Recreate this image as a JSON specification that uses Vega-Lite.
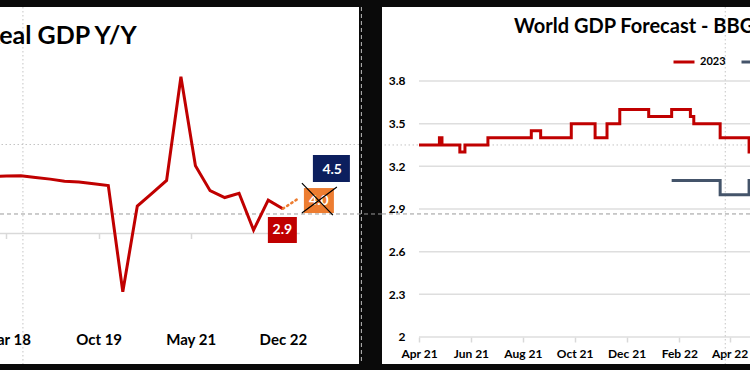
{
  "$schema": "https://vega.github.io/schema/vega-lite/v6.json",
  "background": "#0a0a0a",
  "autosize": {"type": "none"},
  "padding": {"left": 0, "top": 7, "right": 750, "bottom": 363},
  "spacing": 23,
  "bounds": "flush",
  "config": {
    "view": {"stroke": null, "fill": "white"},
    "font": "Lato"
  },
  "hconcat": [
    {
      "width": 359,
      "height": 357,
      "title": {"text": "Real GDP Y/Y", "anchor": "start", "frame": "group", "dx": -16, "dy": 62, "offset": 0, "baseline": "alphabetic", "fontSize": 25, "font": "Lato", "fontWeight": "bold", "color": "#000"},
      "layer": [
        {
          "data": {"values": [{}]},
          "mark": {"type": "rule", "color": "#d9d9d9", "strokeWidth": 1.5},
          "encoding": {
            "x": {"datum": {"year": 2018, "month": 2, "date": 19, "utc": true}, "type": "temporal"},
            "x2": {"datum": {"year": 2023, "month": 4, "date": 16, "utc": true}},
            "y": {"datum": 0, "type": "quantitative", "axis": null}
          }
        },
        {
          "data": {"values": [{}]},
          "mark": {"type": "rule", "color": "#c4c4c4", "strokeWidth": 1, "strokeDash": [1.5, 2.5]},
          "encoding": {"y": {"datum": 10.39, "type": "quantitative", "axis": null}}
        },
        {
          "data": {"values": [{}]},
          "mark": {"type": "rule", "color": "#c4c4c4", "strokeWidth": 1, "strokeDash": [1.5, 2.5]},
          "encoding": {"x": {"datum": {"year": 2018, "month": 7, "date": 13, "utc": true}, "type": "temporal"}}
        },
        {
          "data": {"values": [{}]},
          "mark": {"type": "rule", "color": "#9a9a9a", "strokeWidth": 1, "strokeDash": [4, 3], "clip": false},
          "encoding": {
            "x": {"datum": {"year": 2018, "month": 2, "date": 19, "utc": true}, "type": "temporal"},
            "x2": {"datum": {"year": 2024, "month": 9, "date": 13, "utc": true}},
            "y": {"datum": 2.28, "type": "quantitative", "axis": null}
          }
        },
        {
          "data": {"values": [{}]},
          "mark": {"type": "rule", "color": "#bdbdbd", "strokeWidth": 1, "strokeDash": [4, 3], "clip": false},
          "encoding": {
            "x": {"datum": {"year": 2024, "month": 5, "date": 7, "utc": true}, "type": "temporal"}
          }
        },
        {
          "data": {"values": [
            {"date": "2017-09-30", "gdp": 6.7},
            {"date": "2017-12-31", "gdp": 6.65},
            {"date": "2018-03-31", "gdp": 6.7},
            {"date": "2018-06-30", "gdp": 6.75},
            {"date": "2018-09-30", "gdp": 6.55},
            {"date": "2018-12-31", "gdp": 6.35},
            {"date": "2019-03-31", "gdp": 6.1},
            {"date": "2019-06-30", "gdp": 6.0},
            {"date": "2019-09-30", "gdp": 5.8},
            {"date": "2019-12-31", "gdp": 5.6},
            {"date": "2020-03-31", "gdp": -6.8},
            {"date": "2020-06-30", "gdp": 3.2},
            {"date": "2020-09-30", "gdp": 4.7},
            {"date": "2020-12-31", "gdp": 6.2},
            {"date": "2021-03-31", "gdp": 18.3},
            {"date": "2021-06-30", "gdp": 7.9},
            {"date": "2021-09-30", "gdp": 5.0},
            {"date": "2021-12-31", "gdp": 4.2},
            {"date": "2022-03-31", "gdp": 4.7},
            {"date": "2022-06-30", "gdp": 0.4},
            {"date": "2022-09-30", "gdp": 3.9},
            {"date": "2022-12-31", "gdp": 2.9}
          ]},
          "mark": {"type": "line", "color": "#c00000", "strokeWidth": 3, "clip": true},
          "encoding": {
            "x": {
              "field": "date", "type": "temporal",
              "scale": {"type": "utc", "nice": false, "domain": [{"year": 2018, "month": 2, "date": 19, "utc": true}, {"year": 2024, "month": 4, "date": 22, "utc": true}]},
              "axis": {
                "orient": "bottom", "offset": -130.5, "title": null, "domain": false, "grid": false,
                "values": [{"year": 2018, "month": 3, "date": 31, "utc": true}, {"year": 2019, "month": 10, "date": 31, "utc": true}, {"year": 2021, "month": 5, "date": 31, "utc": true}, {"year": 2022, "month": 12, "date": 31, "utc": true}],
                "format": "%b %y", "ticks": true, "tickSize": 5, "tickColor": "#d9d9d9", "tickWidth": 1.5,
                "labelPadding": 105.5, "labelBaseline": "alphabetic", "labelFont": "Lato", "labelFontWeight": "bold", "labelFontSize": 15, "labelColor": "#000",
                "labelFlush": false, "labelOverlap": false
              }
            },
            "y": {"field": "gdp", "type": "quantitative", "scale": {"domain": [-15.23, 26.44], "nice": false, "zero": false}, "axis": null}
          }
        },
        {
          "data": {"values": [{"date": "2022-12-31", "v": 2.9}, {"date": "2023-03-31", "v": 4.0}]},
          "mark": {"type": "line", "color": "#ed7d31", "strokeWidth": 2.5, "strokeDash": [1.5, 3.5], "strokeCap": "round"},
          "encoding": {
            "x": {"field": "date", "type": "temporal"},
            "y": {"field": "v", "type": "quantitative", "axis": null}
          }
        },
        {
          "data": {"values": [{"date": "2022-12-31", "value": 2.9, "label": "2.9"}]},
          "encoding": {
            "x": {"field": "date", "type": "temporal"},
            "y": {"field": "value", "type": "quantitative", "axis": null}
          },
          "layer": [
            {"mark": {"type": "point", "shape": "M-1.5,0.83L1.4,0.83L1.4,3.43L-1.5,3.43Z", "size": 400, "filled": true, "fill": "#c00000", "strokeWidth": 0, "opacity": 1}},
            {"mark": {"type": "text", "dx": -0.5, "dy": 21.3, "color": "white", "font": "Lato", "fontWeight": "bold", "fontSize": 14, "align": "center", "baseline": "middle"}, "encoding": {"text": {"field": "label"}}}
          ]
        },
        {
          "data": {"values": [{"date": "2023-03-31", "value": 4.0, "label": "4.0"}]},
          "encoding": {
            "x": {"field": "date", "type": "temporal"},
            "y": {"field": "value", "type": "quantitative", "axis": null}
          },
          "layer": [
            {"mark": {"type": "point", "shape": "M0.67,-1.12L3.67,-1.12L3.67,1.38L0.67,1.38Z", "size": 400, "filled": true, "fill": "#ed7d31", "strokeWidth": 0, "opacity": 1}},
            {"mark": {"type": "text", "dx": 21.7, "dy": 1.3, "color": "white", "font": "Lato", "fontWeight": "bold", "fontSize": 14, "align": "center", "baseline": "middle"}, "encoding": {"text": {"field": "label"}}},
            {"mark": {"type": "point", "shape": "M0.47,-1.62L3.57,1.58M0.47,1.38L3.97,-1.22", "size": 400, "filled": false, "stroke": "#000", "strokeWidth": 1.2, "opacity": 1}}
          ]
        },
        {
          "data": {"values": [{"date": "2023-03-31", "value": 4.5, "label": "4.5"}]},
          "encoding": {
            "x": {"field": "date", "type": "temporal"},
            "y": {"field": "value", "type": "quantitative", "axis": null}
          },
          "layer": [
            {"mark": {"type": "point", "shape": "M1.57,-4L5.27,-4L5.27,-1.3L1.57,-1.3Z", "size": 400, "filled": true, "fill": "#0c1f5e", "strokeWidth": 0, "opacity": 1}},
            {"mark": {"type": "text", "dx": 35, "dy": -25, "color": "white", "font": "Lato", "fontWeight": "bold", "fontSize": 14, "align": "center", "baseline": "middle"}, "encoding": {"text": {"field": "label"}}}
          ]
        }
      ]
    },
    {
      "width": 368,
      "height": 357,
      "title": {"text": "World GDP Forecast - BBG Consensus", "anchor": "start", "frame": "group", "dx": 132, "dy": 46, "offset": 0, "baseline": "alphabetic", "fontSize": 20, "font": "Lato", "fontWeight": "bold", "color": "#000"},
      "layer": [
        {
          "data": {"values": [{"g": 2}, {"g": 2.3}, {"g": 2.6}, {"g": 2.9}, {"g": 3.2}, {"g": 3.5}, {"g": 3.8}]},
          "mark": {"type": "rule", "color": "#dedede", "strokeWidth": 1.5, "clip": true},
          "encoding": {
            "x": {"datum": {"year": 2021, "month": 4, "date": 1, "utc": true}, "type": "temporal"},
            "x2": {"datum": {"year": 2022, "month": 6, "date": 30, "utc": true}},
            "y": {"field": "g", "type": "quantitative"}
          }
        },
        {
          "data": {"values": [{}]},
          "mark": {"type": "rule", "color": "#c4c4c4", "strokeWidth": 1, "strokeDash": [1.5, 2.5]},
          "encoding": {"y": {"datum": 3.35, "type": "quantitative"}}
        },
        {
          "data": {"values": [{}]},
          "mark": {"type": "rule", "color": "#9a9a9a", "strokeWidth": 1, "strokeDash": [4, 3]},
          "encoding": {"y": {"datum": 2.865, "type": "quantitative"}}
        },
        {
          "data": {"values": [{}]},
          "mark": {"type": "rule", "color": "#c4c4c4", "strokeWidth": 1, "strokeDash": [1.5, 2.5]},
          "encoding": {"x": {"datum": {"year": 2022, "month": 3, "date": 27, "utc": true}, "type": "temporal"}}
        },
        {
          "data": {"values": [
            {"date": "2021-04-01", "series": "2023", "value": 3.35},
            {"date": "2021-04-25", "series": "2023", "value": 3.4},
            {"date": "2021-04-28", "series": "2023", "value": 3.35},
            {"date": "2021-05-19", "series": "2023", "value": 3.3},
            {"date": "2021-05-25", "series": "2023", "value": 3.35},
            {"date": "2021-06-21", "series": "2023", "value": 3.4},
            {"date": "2021-08-11", "series": "2023", "value": 3.45},
            {"date": "2021-08-22", "series": "2023", "value": 3.4},
            {"date": "2021-09-27", "series": "2023", "value": 3.5},
            {"date": "2021-10-25", "series": "2023", "value": 3.4},
            {"date": "2021-11-08", "series": "2023", "value": 3.5},
            {"date": "2021-11-23", "series": "2023", "value": 3.6},
            {"date": "2021-12-27", "series": "2023", "value": 3.55},
            {"date": "2022-01-23", "series": "2023", "value": 3.6},
            {"date": "2022-02-14", "series": "2023", "value": 3.55},
            {"date": "2022-02-18", "series": "2023", "value": 3.5},
            {"date": "2022-03-21", "series": "2023", "value": 3.4},
            {"date": "2022-04-24", "series": "2023", "value": 3.3},
            {"date": "2022-05-31", "series": "2023", "value": 3.3},
            {"date": "2022-01-23", "series": "2024", "value": 3.1},
            {"date": "2022-03-21", "series": "2024", "value": 3.0},
            {"date": "2022-04-24", "series": "2024", "value": 3.1},
            {"date": "2022-05-31", "series": "2024", "value": 3.1}
          ]},
          "mark": {"type": "line", "interpolate": "step-after", "strokeWidth": 3, "clip": true},
          "encoding": {
            "x": {
              "field": "date", "type": "temporal",
              "scale": {"type": "utc", "nice": false, "domain": [{"year": 2021, "month": 2, "date": 16, "hours": 12, "utc": true}, {"year": 2022, "month": 4, "date": 25, "hours": 2, "utc": true}]},
              "axis": {
                "orient": "bottom", "offset": -27, "title": null, "domain": false, "grid": false,
                "values": [{"year": 2021, "month": 4, "date": 1, "utc": true}, {"year": 2021, "month": 6, "date": 1, "utc": true}, {"year": 2021, "month": 8, "date": 1, "utc": true}, {"year": 2021, "month": 10, "date": 1, "utc": true}, {"year": 2021, "month": 12, "date": 1, "utc": true}, {"year": 2022, "month": 2, "date": 1, "utc": true}, {"year": 2022, "month": 4, "date": 1, "utc": true}],
                "format": "%b %y", "ticks": true, "tickSize": 5, "tickColor": "#d9d9d9", "tickWidth": 1.5,
                "labelPadding": 15, "labelBaseline": "alphabetic", "labelFont": "Lato", "labelFontWeight": "bold", "labelFontSize": 12, "labelColor": "#000",
                "labelFlush": false, "labelOverlap": false
              }
            },
            "y": {
              "field": "value", "type": "quantitative",
              "scale": {"domain": [1.81, 4.32], "nice": false, "zero": false},
              "axis": {
                "orient": "left", "offset": -23, "title": null, "domain": false, "grid": false, "ticks": false,
                "values": [2, 2.3, 2.6, 2.9, 3.2, 3.5, 3.8], "format": ".1~f",
                "labelPadding": 0, "labelFont": "Lato", "labelFontWeight": "bold", "labelFontSize": 12, "labelColor": "#000"
              }
            },
            "color": {
              "field": "series", "type": "nominal",
              "scale": {"domain": ["2023", "2024"], "range": ["#c00000", "#44546a"]},
              "legend": {
                "orient": "none", "legendX": 672, "legendY": 43, "direction": "horizontal", "title": null,
                "symbolType": "stroke", "symbolSize": 441, "symbolStrokeWidth": 3,
                "labelFont": "Lato", "labelFontWeight": "bold", "labelFontSize": 11, "labelColor": "#000",
                "labelOffset": 4, "columnPadding": 9, "padding": 0
              }
            }
          }
        }
      ]
    }
  ]
}
